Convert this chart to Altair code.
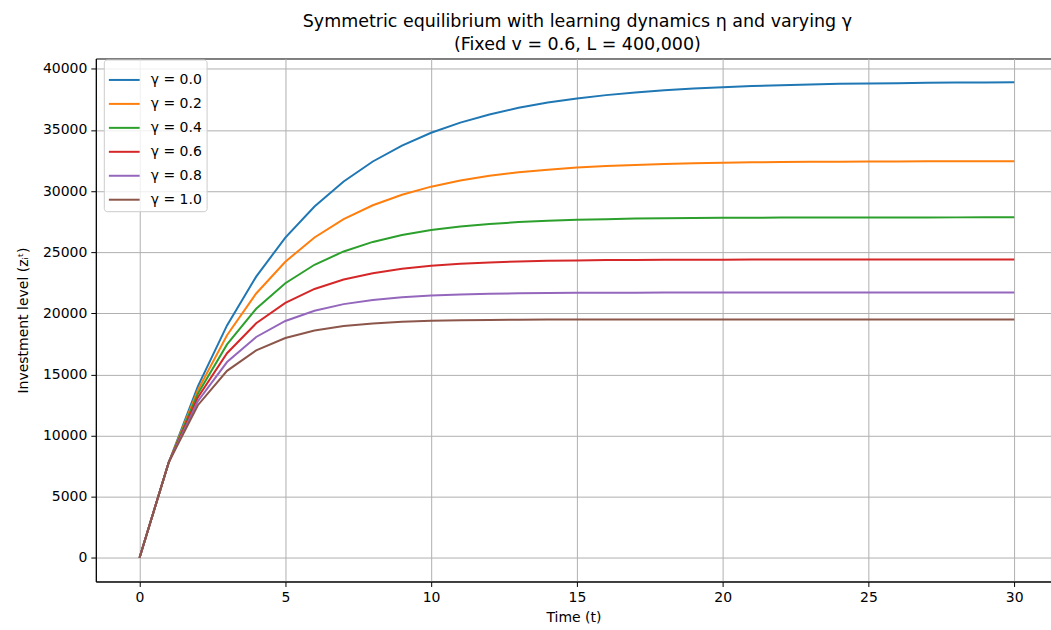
import altair as alt
import pandas as pd

t_values = list(range(31))
gamma_labels = ["γ = 0.0", "γ = 0.2", "γ = 0.4", "γ = 0.6", "γ = 0.8", "γ = 1.0"]
colors = ["#1f77b4", "#ff7f0e", "#2ca02c", "#d62728", "#9467bd", "#8c564b"]

g00 = [0, 7790, 14020, 19010, 23000, 26190, 28740, 30780, 32420, 33720, 34770,
       35600, 36270, 36810, 37240, 37580, 37850, 38070, 38250, 38390, 38500,
       38590, 38660, 38720, 38770, 38800, 38830, 38860, 38875, 38890, 38900]
g02 = [0, 7790, 13710, 18200, 21620, 24220, 26200, 27700, 28840, 29700, 30360,
       30860, 31250, 31530, 31750, 31920, 32050, 32140, 32220, 32270, 32320,
       32350, 32370, 32390, 32405, 32415, 32425, 32430, 32435, 32440, 32440]
g04 = [0, 7800, 13410, 17450, 20370, 22460, 23970, 25060, 25840, 26400, 26810,
       27100, 27310, 27460, 27570, 27650, 27700, 27745, 27775, 27795, 27810,
       27820, 27830, 27835, 27840, 27842, 27845, 27846, 27847, 27848, 27849]
g06 = [0, 7810, 13120, 16730, 19180, 20850, 21990, 22760, 23280, 23640, 23880,
       24050, 24160, 24240, 24290, 24325, 24350, 24365, 24376, 24384, 24389,
       24393, 24395, 24397, 24398, 24399, 24399, 24400, 24400, 24400, 24400]
g08 = [0, 7810, 12810, 16010, 18060, 19370, 20210, 20750, 21090, 21310, 21450,
       21540, 21600, 21634, 21658, 21673, 21683, 21689, 21693, 21696, 21697,
       21698, 21699, 21699, 21700, 21700, 21700, 21700, 21700, 21700, 21700]
g10 = [0, 7800, 12480, 15290, 16970, 17980, 18590, 18950, 19170, 19300, 19380,
       19430, 19458, 19475, 19485, 19491, 19495, 19497, 19498, 19499, 19500,
       19500, 19500, 19500, 19500, 19500, 19500, 19500, 19500, 19500, 19500]

series = [g00, g02, g04, g06, g08, g10]

rows = []
for label, vals in zip(gamma_labels, series):
    for t, v in zip(t_values, vals):
        rows.append({"t": t, "gamma": label, "z": v})
df = pd.DataFrame(rows)

FONT = "DejaVu Sans"

chart = alt.Chart(df).mark_line(strokeWidth=2, clip=True).encode(
    x=alt.X("t:Q",
            scale=alt.Scale(domain=[-1.5, 31.26], nice=False, zero=False),
            axis=alt.Axis(values=[0, 5, 10, 15, 20, 25, 30], title="Time (t)",
                          format="d")),
    y=alt.Y("z:Q",
            scale=alt.Scale(domain=[-1945, 40847], nice=False, zero=False),
            axis=alt.Axis(values=list(range(0, 40001, 5000)),
                          title="Investment level (zᵢᵗ)", format="d")),
    color=alt.Color("gamma:N",
                    scale=alt.Scale(domain=gamma_labels, range=colors),
                    legend=alt.Legend(title=None, orient="none",
                                      legendX=8, legendY=1,
                                      symbolType="stroke", symbolSize=950,
                                      symbolStrokeWidth=2,
                                      labelFontSize=14, labelFont=FONT,
                                      labelColor="#000000",
                                      rowPadding=0,
                                      padding=4, fillColor="rgba(255,255,255,0.8)",
                                      strokeColor="#cccccc", cornerRadius=3,
                                      labelOffset=10)),
).properties(
    width=957,
    height=524,
    title=alt.TitleParams(
        text=["Symmetric equilibrium with learning dynamics η and varying γ",
              "(Fixed v = 0.6, L = 400,000)"],
        font=FONT, fontSize=17.5, fontWeight="normal", color="#000000",
        lineHeight=23, offset=5, dx=4, anchor="middle"),
    autosize=alt.AutoSizeParams(type="none"),
    padding={"left": 96, "top": 58, "right": 0, "bottom": 48},
).configure_view(
    stroke="#000000", strokeWidth=1
).configure_axis(
    labelFont=FONT, titleFont=FONT, labelFontSize=14, titleFontSize=14,
    labelColor="#000000", titleColor="#000000", titleFontWeight="normal",
    gridColor="#b0b0b0", gridWidth=1, domain=True, domainColor="#000000",
    domainWidth=1, tickColor="#000000", tickSize=5, tickWidth=1,
    labelPadding=4,
).configure_axisX(
    titlePadding=6, labelFlush=False
).configure_axisY(
    titlePadding=12, labelFlush=False
)

chart.save("out.html", embed_options={"renderer": "svg", "actions": False})
